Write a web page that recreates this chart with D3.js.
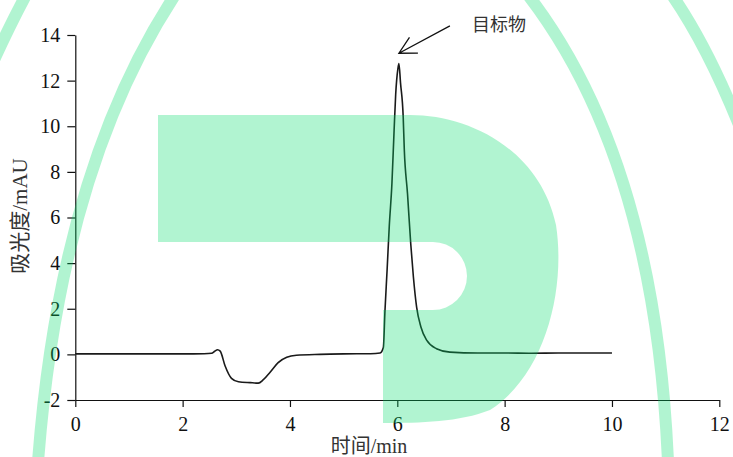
<!DOCTYPE html>
<html>
<head>
<meta charset="utf-8">
<script src="https://cdn.jsdelivr.net/npm/d3@7"></script>
<style>
  html, body { margin: 0; padding: 0; background: #fff; }
  svg { display: block; }
</style>
</head>
<body>
<svg id="chart" width="733" height="457"></svg>
<script>
// ---- data ----
const timeMin = [0, 0.5, 1, 1.5, 2, 2.4, 2.54, 2.6, 2.65, 2.7, 2.79, 2.91, 3.04, 3.26, 3.41, 3.5, 3.63, 3.78, 3.94, 4.12, 4.56, 5.0, 5.5, 5.68, 5.74, 5.77, 5.81, 5.85, 5.90, 5.94, 5.97, 6.01, 6.03, 6.06, 6.11, 6.13, 6.19, 6.25, 6.30, 6.36, 6.44, 6.55, 6.73, 6.98, 7.5, 8, 8.5, 9, 9.5, 10];
const absorbance = [0.02, 0.02, 0.02, 0.02, 0.02, 0.03, 0.05, 0.14, 0.2, 0.14, -0.5, -1.05, -1.2, -1.24, -1.26, -1.12, -0.78, -0.36, -0.13, -0.04, 0.0, 0.02, 0.03, 0.06, 0.3, 1.9, 3.7, 5.6, 7.5, 9.8, 11.4, 12.5, 12.75, 11.9, 10.4, 9.0, 7.05, 4.86, 3.39, 2.07, 1.2, 0.61, 0.25, 0.1, 0.06, 0.06, 0.05, 0.06, 0.06, 0.06];
const xTicks = [0, 2, 4, 6, 8, 10, 12];
const yTicks = [-2, 0, 2, 4, 6, 8, 10, 12, 14];
const xLabel = "时间/min";
const yLabel = "吸光度/mAU";
const annotationText = "目标物";
const annotationTip = [6.03, 13.2];   // data coords of arrow tip
const annotationTail = [6.98, 14.4];  // data coords of arrow tail

// ---- scales ----
const svg = d3.select("#chart");
const x = d3.scaleLinear().domain([0, 12]).range([75.3, 719.3]);
const y = d3.scaleLinear().domain([-2, 14]).range([400, 35]);

const serif = "'Liberation Serif', 'Times New Roman', 'Noto Sans CJK SC', serif";

// ---- axes ----
const xAxis = svg.append("g").attr("transform", `translate(0,${y(-2)})`)
  .call(d3.axisBottom(x).tickValues(xTicks).tickSize(7).tickSizeOuter(0).tickPadding(10).tickFormat(d => String(d)));
const yAxis = svg.append("g").attr("transform", `translate(${x(0)},0)`)
  .call(d3.axisLeft(y).tickValues(yTicks).tickSize(8).tickSizeOuter(0).tickPadding(7).tickFormat(d => String(d)));
[xAxis, yAxis].forEach(g => {
  g.selectAll("path.domain").attr("stroke", "#111").attr("stroke-width", 1.2);
  g.selectAll(".tick line").attr("stroke", "#111").attr("stroke-width", 1.2);
  g.selectAll(".tick text").attr("fill", "#111").style("font-family", serif).style("font-size", "20px");
});

// axis titles
svg.append("text")
  .attr("x", 369).attr("y", 453)
  .attr("text-anchor", "middle")
  .style("font-family", serif).style("font-size", "20px").attr("fill", "#333")
  .text(xLabel);
svg.append("text")
  .attr("transform", "translate(27,216) rotate(-90)")
  .attr("text-anchor", "middle")
  .style("font-family", serif).style("font-size", "21px").attr("fill", "#333")
  .text(yLabel);

// ---- chromatogram line ----
const pts = timeMin.map((t, i) => [t, absorbance[i]]);
svg.append("path")
  .datum(pts)
  .attr("fill", "none")
  .attr("stroke", "#1a1a1a")
  .attr("stroke-width", 1.6)
  .attr("stroke-linejoin", "round")
  .attr("d", d3.line().x(d => x(d[0])).y(d => y(d[1])).curve(d3.curveMonotoneX));

// ---- annotation arrow ----
const tip = [x(annotationTip[0]), y(annotationTip[1])];
const tail = [x(annotationTail[0]), y(annotationTail[1])];
const ang = Math.atan2(tail[1] - tip[1], tail[0] - tip[0]);
const bl = 19, spread = 28 * Math.PI / 180;
const b1 = [tip[0] + bl * Math.cos(ang - spread), tip[1] + bl * Math.sin(ang - spread)];
const b2 = [tip[0] + bl * Math.cos(ang + spread), tip[1] + bl * Math.sin(ang + spread)];
svg.append("path")
  .attr("d", `M${tail[0]},${tail[1]}L${tip[0]},${tip[1]}M${b1[0]},${b1[1]}L${tip[0]},${tip[1]}L${b2[0]},${b2[1]}`)
  .attr("fill", "none").attr("stroke", "#111").attr("stroke-width", 1.3);
svg.append("text")
  .attr("x", 472).attr("y", 31)
  .style("font-family", "'Noto Sans CJK SC', sans-serif").style("font-size", "18px")
  .attr("fill", "#333")
  .text(annotationText);

// ---- watermark (decorative overlay) ----
const wm = svg.append("g").attr("opacity", 0.3);
const wmColor = "rgb(0,221,105)";
wm.append("path")
  .attr("d", "M158,115 H410 C470,115 540,150 556,225 C566,290 545,375 490,410 C460,422 420,423 383,423 V310 H433 A34,34 0 0 0 433,242 H158 Z")
  .attr("fill", wmColor);
const rings = [
  "M175,-5 Q60,170 38,462",
  "M528,-5 Q655,160 668,462",
  "M672,-5 Q710,50 745,140",
  "M26,-5 Q10,25 -6,60"
];
wm.selectAll("path.ring").data(rings).join("path")
  .attr("class", "ring").attr("d", d => d)
  .attr("fill", "none").attr("stroke", wmColor).attr("stroke-width", 12);
</script>
</body>
</html>
